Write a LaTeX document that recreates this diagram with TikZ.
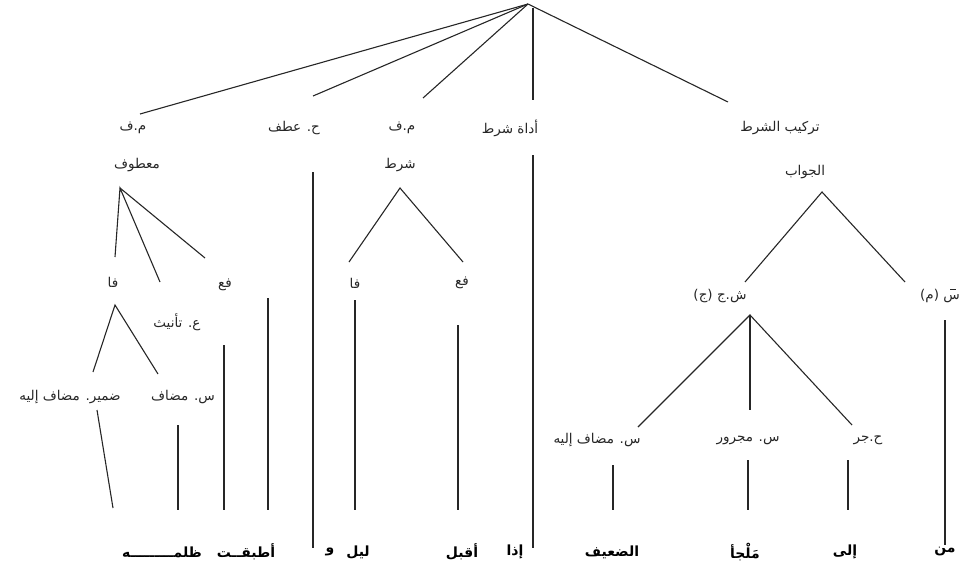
\documentclass[tikz,border=0pt]{standalone}
\usepackage{fontspec}
\newfontfamily\arabicfont[Script=Arabic]{DejaVu Sans}
\TeXXeTstate=1
\newcommand\artxt[1]{\beginR #1\endR}
\tikzset{
  lbl/.style={font=\arabicfont\fontsize{13.5}{15}\selectfont, text=black!85, inner sep=1pt},
  wrd/.style={font=\arabicfont\bfseries\fontsize{14}{16}\selectfont, text=black, inner sep=1pt},
  ln/.style={draw=black!85, line width=1.1pt}
}
\begin{document}
\begin{tikzpicture}[x=1pt,y=-1pt]
\useasboundingbox (0,0) rectangle (969,579);
% ---------- labels row 1
\node[lbl] (mf1) at (133,128) {\artxt{م.ف}};
\node[lbl] (atf) at (294,128) {\artxt{ح. عطف}};
\node[lbl] (mf2) at (402,128) {\artxt{م.ف}};
\node[lbl] (adat) at (510,128) {\artxt{أداة شرط}};
\node[lbl] (tark) at (780,128) {\artxt{تركيب الشرط}};
% ---------- row 2
\node[lbl] (matf) at (137,165) {\artxt{معطوف}};
\node[lbl] (shrt) at (400,165) {\artxt{شرط}};
\node[lbl] (jwb) at (805,172) {\artxt{الجواب}};
% ---------- lower labels
\node[lbl] (fa1) at (113,282) {\artxt{فا}};
\node[lbl] (fe1) at (225,285) {\artxt{فع}};
\node[lbl] (tan) at (177,322) {\artxt{ع. تأنيث}};
\node[lbl] (damir) at (70,397) {\artxt{ضمير. مضاف إليه}};
\node[lbl] (mudaf) at (183,397) {\artxt{س. مضاف}};
\node[lbl] (fa2) at (355,283) {\artxt{فا}};
\node[lbl] (fe2) at (462,283) {\artxt{فع}};
\node[lbl] (shj) at (720,296) {\artxt{ش.ج (ج)}};
\node[lbl] (sm) at (940,296) {\artxt{س (م)}};
\draw[ln, line width=0.7pt] ([xshift=10pt,yshift=-1pt]sm.north) -- ++(6,0);
\node[lbl] (mi2) at (597,440) {\artxt{س. مضاف إليه}};
\node[lbl] (majr) at (748,440) {\artxt{س. مجرور}};
\node[lbl] (jar) at (868,440) {\artxt{ح.جر}};
% ---------- bottom words
\node[wrd] (w1) at (162,552) {\artxt{ظلمـــــــــه}};
\node[wrd] (w2) at (246,552) {\artxt{أطبقــت}};
\node[wrd] (w3) at (330,552) {\artxt{و}};
\node[wrd] (w4) at (358,552) {\artxt{ليل}};
\node[wrd] (w5) at (462,552) {\artxt{أقبل}};
\node[wrd] (w6) at (515,552) {\artxt{إذا}};
\node[wrd] (w7) at (612,552) {\artxt{الضعيف}};
\node[wrd] (w8) at (745,552) {\artxt{مَلْجأ}};
\node[wrd] (w9) at (845,552) {\artxt{إلى}};
\node[wrd] (w10) at (945,552) {\artxt{من}};
% ---------- coordinates
\coordinate (apex) at (528,4);
\coordinate (a1) at (140,114);
\coordinate (a2) at (313,96);
\coordinate (a3) at (423,98);
\coordinate (a4t) at (533,8);
\coordinate (a4) at (533,100);
\coordinate (a5) at (728,102);
\coordinate (v1t) at (313,172); \coordinate (v1b) at (313,548);
\coordinate (v2t) at (533,155); \coordinate (v2b) at (533,548);
\coordinate (m0) at (120,188);
\coordinate (m1) at (115,257); \coordinate (m2) at (160,282); \coordinate (m3) at (205,258);
\coordinate (f0) at (115,305);
\coordinate (f1) at (93,372); \coordinate (f2) at (158,374);
\coordinate (d1t) at (97,410); \coordinate (d1b) at (113,508);
\coordinate (d2t) at (178,425); \coordinate (d2b) at (178,510);
\coordinate (e1t) at (224,345); \coordinate (e1b) at (224,510);
\coordinate (e2t) at (268,298); \coordinate (e2b) at (268,510);
\coordinate (s0) at (400,188);
\coordinate (s1) at (349,262); \coordinate (s2) at (463,262);
\coordinate (l1t) at (355,300); \coordinate (l1b) at (355,510);
\coordinate (l2t) at (458,325); \coordinate (l2b) at (458,510);
\coordinate (j0) at (822,192);
\coordinate (j1) at (745,282); \coordinate (j2) at (905,282);
\coordinate (mt) at (945,320); \coordinate (mb) at (945,545);
\coordinate (h0) at (750,315);
\coordinate (h1) at (638,427); \coordinate (h2) at (750,410); \coordinate (h3) at (852,425);
\coordinate (r1t) at (613,465); \coordinate (r1b) at (613,510);
\coordinate (r2t) at (748,460); \coordinate (r2b) at (748,510);
\coordinate (r3t) at (848,460); \coordinate (r3b) at (848,510);
% ---------- lines
\draw[ln] (apex) -- (a1);
\draw[ln] (apex) -- (a2);
\draw[ln] (apex) -- (a3);
\draw[ln] (a4t) -- (a4);
\draw[ln] (apex) -- (a5);
\draw[ln] (v1t) -- (v1b);
\draw[ln] (v2t) -- (v2b);
\draw[ln] (m1) -- (m0) -- (m2);
\draw[ln] (m0) -- (m3);
\draw[ln] (f1) -- (f0) -- (f2);
\draw[ln] (d1t) -- (d1b);
\draw[ln] (d2t) -- (d2b);
\draw[ln] (e1t) -- (e1b);
\draw[ln] (e2t) -- (e2b);
\draw[ln] (s1) -- (s0) -- (s2);
\draw[ln] (l1t) -- (l1b);
\draw[ln] (l2t) -- (l2b);
\draw[ln] (j1) -- (j0) -- (j2);
\draw[ln] (mt) -- (mb);
\draw[ln] (h1) -- (h0) -- (h3);
\draw[ln] (h0) -- (h2);
\draw[ln] (r1t) -- (r1b);
\draw[ln] (r2t) -- (r2b);
\draw[ln] (r3t) -- (r3b);
\end{tikzpicture}
\end{document}
